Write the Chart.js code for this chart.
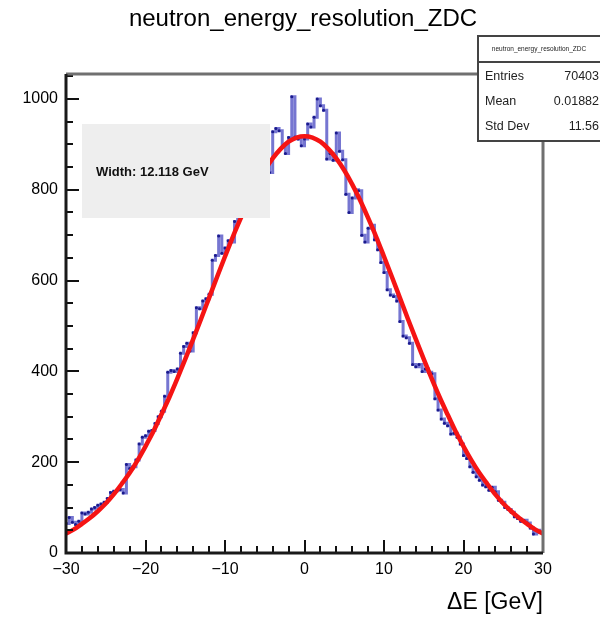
<!DOCTYPE html>
<html lang="en">
<head>
<meta charset="UTF-8">
<title>neutron_energy_resolution_ZDC</title>
<script src="https://cdn.jsdelivr.net/npm/chart.js"></script>
<style>
  body { margin: 0; background: #fff; }
  #wrap { width: 600px; height: 626px; }
</style>
</head>
<body>
<div id="wrap"><canvas id="c" width="600" height="626"></canvas></div>
<script>
  // histogram binning (150 bins of 0.4 GeV)
  const xMin = -30, xMax = 30, binWidth = 0.4;
  const yMax = 1055;

  // bin contents
  const counts = [
     65,  78,  68,  63,  70,  88,  86,  90,  97, 100,
    105, 108, 112, 120, 133, 136, 138, 140, 132, 195,
    186, 190, 205, 240, 255, 258, 268, 270, 285, 300,
    312, 345, 398, 402, 400, 405, 440, 455, 462, 445,
    485, 540, 538, 555, 560, 570, 645, 655, 698, 660,
    672, 688, 685, 730, 748, 760, 770, 782, 790, 812,
    815, 838, 840, 860, 838, 928, 935, 930, 895, 880,
    915,1005, 916, 912, 897, 912, 945, 938, 960,1000,
    985, 975, 868, 880, 865, 925, 885, 866, 790, 750,
    782, 800, 798, 700, 685, 715, 722, 690, 668, 640,
    618, 580, 568, 565, 555, 510, 478, 474, 462, 415,
    410, 415, 400, 405, 398, 395, 340, 315, 295, 286,
    280, 262, 264, 255, 240, 215, 208, 190, 178, 168,
    160, 150, 146, 138, 145, 135, 116, 112, 100,  96,
     90,  80,  76,  70,  72,  66,  55,  42,  50,  45
  ];

  // gaussian fit curve, sampled every 1 GeV from -30 to 30
  const fitX = [-30,-29,-28,-27,-26,-25,-24,-23,-22,-21,-20,-19,-18,-17,-16,-15,-14,-13,-12,-11,-10,
                -9,-8,-7,-6,-5,-4,-3,-2,-1,0,1,2,3,4,5,6,7,8,9,10,
                11,12,13,14,15,16,17,18,19,20,21,22,23,24,25,26,27,28,29,30];
  const fitY = [ 43, 52, 64, 77, 92,109,129,152,176,204,235,268,305,343,384,427,471,516,562,608,653,
                697,738,777,812,843,869,890,906,915,918,915,906,890,869,843,812,777,738,697,653,
                608,562,516,471,427,384,343,305,268,235,204,176,152,129,109, 92, 77, 64, 52, 43];

  const xTicks = [-30, -20, -10, 0, 10, 20, 30];
  const yTicks = [0, 200, 400, 600, 800, 1000];

  const title = "neutron_energy_resolution_ZDC";
  const xTitle = "ΔE [GeV]";
  const fitLabel = "Width: 12.118 GeV";
  const statsRows = [["Entries", "70403"], ["Mean", "0.01882"], ["Std Dev", "11.56"]];

  const FONT = '"Liberation Sans", Arial, sans-serif';
  Chart.defaults.font.family = FONT;
  Chart.defaults.color = '#000';

  const histPoints = counts.map((c, i) => ({ x: xMin + i * binWidth, y: c }));
  histPoints.push({ x: xMax, y: counts[counts.length - 1] });
  const fitPoints = fitX.map((v, i) => ({ x: v, y: fitY[i] }));

  const rootStyle = {
    id: 'rootStyle',
    afterDatasetsDraw(chart) {
      const ctx = chart.ctx;
      ctx.save();
      ctx.fillStyle = '#eeeeee';
      ctx.fillRect(82, 124, 188, 94);
      ctx.fillStyle = '#111';
      ctx.font = 'bold 13px ' + FONT;
      ctx.textBaseline = 'middle';
      ctx.fillText(fitLabel, 96, 172);
      ctx.restore();
    },
    afterDraw(chart) {
      const { ctx, chartArea: a, scales: { x, y } } = chart;
      ctx.save();
      // inward ticks like ROOT
      ctx.strokeStyle = '#111';
      ctx.lineWidth = 2;
      for (let v = 0; v <= yMax; v += 50) {
        const py = Math.round(y.getPixelForValue(v));
        const len = v % 200 === 0 ? 13 : 7;
        ctx.beginPath(); ctx.moveTo(a.left, py); ctx.lineTo(a.left + len, py); ctx.stroke();
      }
      for (let v = xMin; v <= xMax; v += 2) {
        const px = Math.round(x.getPixelForValue(v));
        const len = v % 10 === 0 ? 13 : 7;
        ctx.beginPath(); ctx.moveTo(px, a.bottom); ctx.lineTo(px, a.bottom - len); ctx.stroke();
      }
      // frame
      ctx.lineWidth = 3;
      ctx.strokeStyle = '#707070';
      ctx.beginPath();
      ctx.moveTo(a.left, a.top); ctx.lineTo(a.right, a.top); ctx.lineTo(a.right, a.bottom);
      ctx.stroke();
      ctx.strokeStyle = '#1a1a1a';
      ctx.beginPath();
      ctx.moveTo(a.left, a.top); ctx.lineTo(a.left, a.bottom); ctx.lineTo(a.right, a.bottom);
      ctx.stroke();

      // titles
      ctx.fillStyle = '#000';
      ctx.textBaseline = 'middle';
      ctx.textAlign = 'center';
      ctx.font = '24px ' + FONT;
      ctx.fillText(title, 303, 19);
      ctx.textAlign = 'right';
      ctx.font = '23px ' + FONT;
      ctx.fillText(xTitle, a.right, 603);

      // stats box
      ctx.fillStyle = '#fff';
      ctx.fillRect(478, 36, 140, 105);
      ctx.strokeStyle = '#444';
      ctx.lineWidth = 2;
      ctx.strokeRect(478, 36, 140, 105);
      ctx.beginPath(); ctx.moveTo(478, 62); ctx.lineTo(618, 62); ctx.stroke();
      ctx.fillStyle = '#222';
      ctx.textAlign = 'center';
      ctx.font = '6.5px ' + FONT;
      ctx.fillText(title, 539, 49);
      ctx.font = '12.5px ' + FONT;
      statsRows.forEach((r, i) => {
        const ry = 77 + i * 25;
        ctx.textAlign = 'left';
        ctx.fillText(r[0], 485, ry);
        ctx.textAlign = 'right';
        ctx.fillText(r[1], 599, ry);
      });
      ctx.restore();
    }
  };

  new Chart(document.getElementById('c').getContext('2d'), {
    type: 'line',
    data: {
      datasets: [
        {
          label: 'fit',
          data: fitPoints,
          borderColor: 'rgb(245,20,20)',
          borderWidth: 4.5,
          pointRadius: 0,
          cubicInterpolationMode: 'monotone',
          fill: false
        },
        {
          label: 'hist',
          data: histPoints,
          stepped: 'before',
          borderColor: 'rgba(60,60,190,0.7)',
          borderWidth: 3,
          pointRadius: 1.5,
          pointBorderWidth: 0,
          pointBackgroundColor: '#1a1a8c',
          fill: false
        }
      ]
    },
    options: {
      responsive: false,
      animation: false,
      devicePixelRatio: 1,
      layout: { padding: { top: 74, right: 57, left: 0, bottom: 0 } },
      plugins: { legend: { display: false }, tooltip: { enabled: false } },
      scales: {
        x: {
          type: 'linear',
          min: xMin, max: xMax,
          grid: { display: false, drawTicks: false },
          border: { display: false },
          afterBuildTicks: s => { s.ticks = xTicks.map(v => ({ value: v })); },
          afterFit: s => { s.height = 73; },
          ticks: {
            padding: 7,
            maxRotation: 0,
            font: { size: 16 },
            callback: v => (v < 0 ? '\u2212' + Math.abs(v) : String(v))
          }
        },
        y: {
          type: 'linear',
          min: 0, max: yMax,
          grid: { display: false, drawTicks: false },
          border: { display: false },
          afterBuildTicks: s => { s.ticks = yTicks.map(v => ({ value: v })); },
          afterFit: s => { s.width = 66; },
          ticks: { padding: 8, font: { size: 16 }, callback: v => String(v) }
        }
      }
    },
    plugins: [rootStyle]
  });
</script>
</body>
</html>
